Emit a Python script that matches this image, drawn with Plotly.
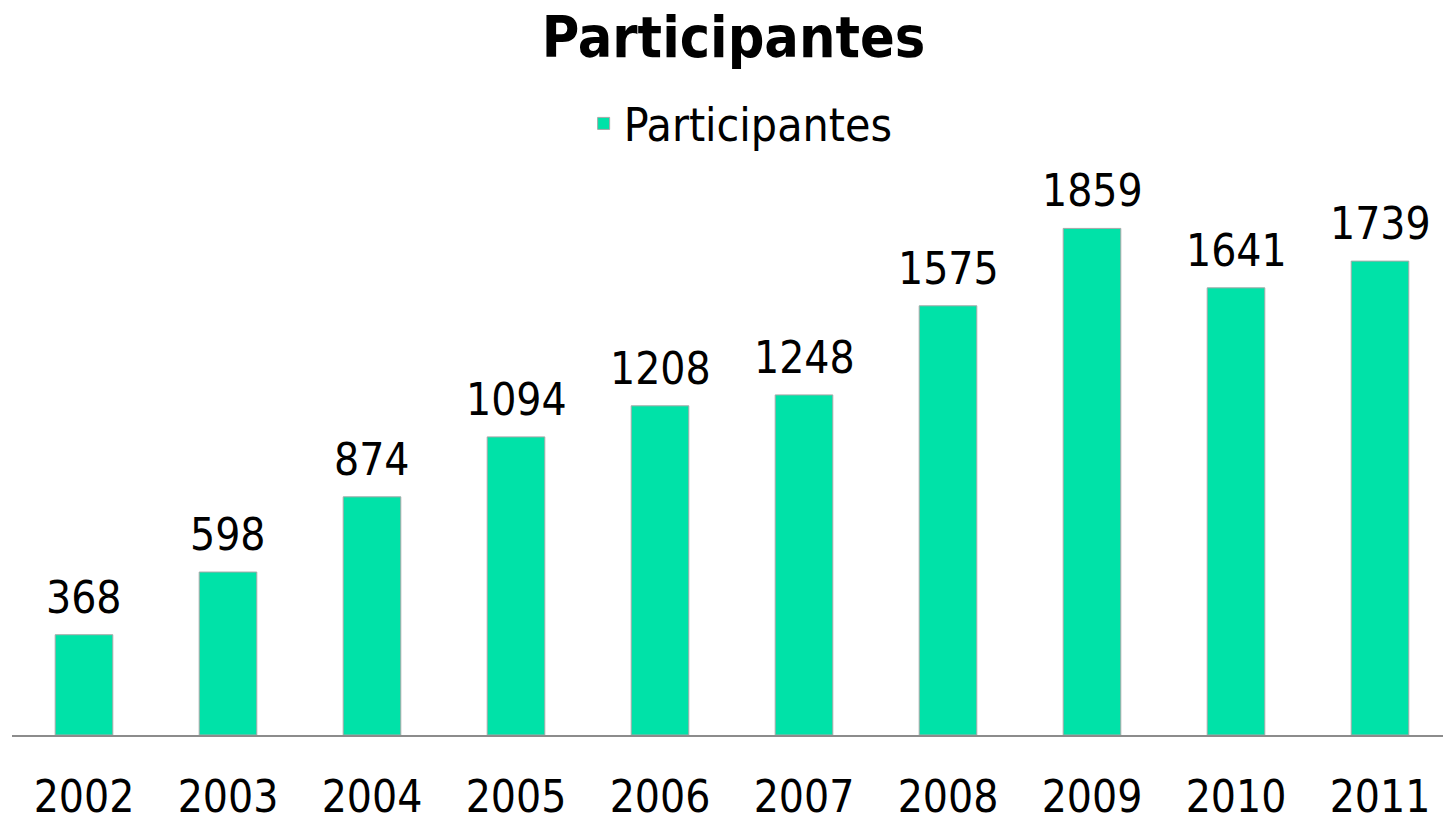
import plotly.graph_objects as go

years = ["2002", "2003", "2004", "2005", "2006", "2007", "2008", "2009", "2010", "2011"]
participantes = [368, 598, 874, 1094, 1208, 1248, 1575, 1859, 1641, 1739]

FONT = "DejaVu Sans Condensed, DejaVu Sans, sans-serif"
GREEN = "#00E2A8"

pos = list(range(len(years)))

fig = go.Figure()
fig.add_trace(go.Bar(
    x=pos, y=participantes, name="Participantes", width=0.4,
    marker=dict(color=GREEN, line=dict(color="#a8a8a8", width=1)),
))

for p, v in zip(pos, participantes):
    fig.add_annotation(x=p, y=v, text=str(v), showarrow=False,
                       yanchor="bottom", yshift=10,
                       font=dict(family=FONT, size=44, color="black"))

fig.update_layout(
    width=1451, height=820,
    paper_bgcolor="white", plot_bgcolor="white",
    margin=dict(l=4, r=7, t=182, b=93),
    title=dict(text="<b>Participantes</b>", x=0.5, xanchor="center",
               y=0.964, yanchor="middle",
               font=dict(family=FONT, size=57, color="black")),
    showlegend=True,
    legend=dict(orientation="h", x=0.506, xanchor="center", y=1.122,
                yanchor="middle", font=dict(family=FONT, size=46, color="black")),
    xaxis=dict(range=[-0.5, 9.5], showline=True, linecolor="#8c8c8c", linewidth=1.5,
               showgrid=False, ticks="outside", ticklen=22, tickcolor="rgba(0,0,0,0)",
               tickmode="array", tickvals=pos, ticktext=years, automargin=False,
               tickfont=dict(family=FONT, size=44, color="black")),
    yaxis=dict(range=[0, 2000], visible=False, showgrid=False, automargin=False),
)
fig.write_html("out.html")
